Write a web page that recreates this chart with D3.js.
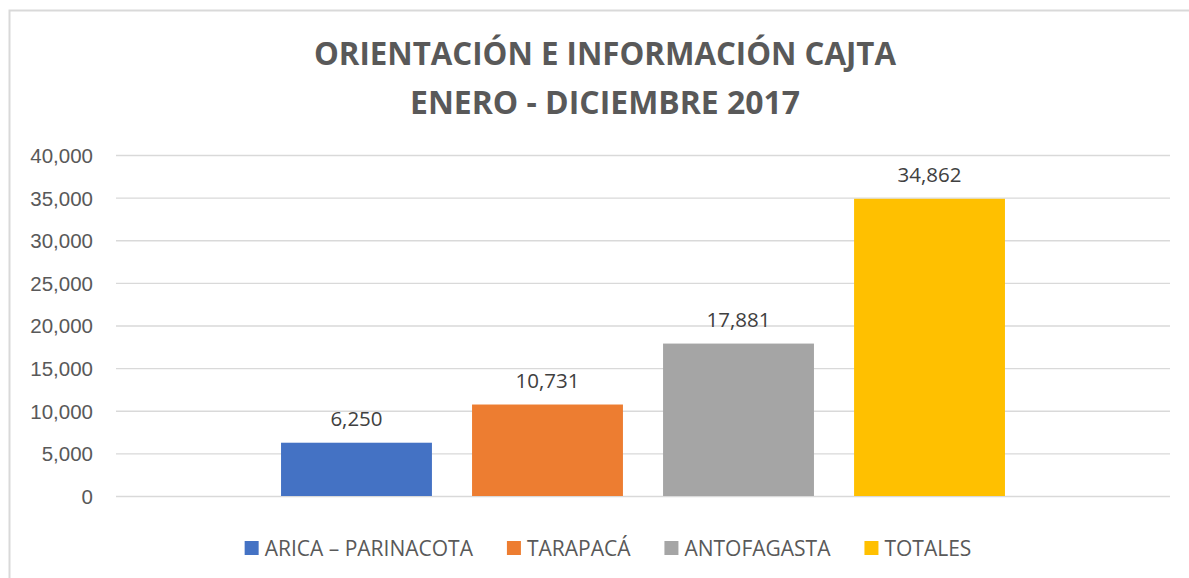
<!DOCTYPE html>
<html>
<head>
<meta charset="utf-8">
<title>Orientación e información CAJTA</title>
<script src="https://d3js.org/d3.v7.min.js"></script>
<style>
    body { margin: 0; background: #fff; }
    svg { display: block; font-family: "Open Sans", "Noto Sans", sans-serif; }
    .grid line { stroke: #d9d9d9; stroke-width: 1.3px; }
    .grid .domain { display: none; }
    .yaxis text { fill: #595959; font-size: 20.5px; }
    .yaxis .domain, .yaxis line { display: none; }
    .title { font-family: "Liberation Sans Narrow", "Open Sans", sans-serif; font-weight: bold; fill: #595959; font-size: 32px; }
    .label { fill: #404040; font-size: 20.5px; }
    .legend text { fill: #595959; font-size: 21px; }
</style>
</head>
<body>
<svg id="chart" width="1189" height="578"></svg>
<script>
// data
var series = ["ARICA – PARINACOTA", "TARAPACÁ", "ANTOFAGASTA", "TOTALES"];
var values = [6250, 10731, 17881, 34862];
var colors = ["#4472c4", "#ed7d31", "#a5a5a5", "#ffc000"];
var yTicks = [0, 5000, 10000, 15000, 20000, 25000, 30000, 35000, 40000];
var titleLines = ["ORIENTACIÓN E INFORMACIÓN CAJTA", "ENERO - DICIEMBRE 2017"];

var svg = d3.select("#chart");
var W = 1189, H = 578;
var margin = { left: 116, right: 19, top: 155, bottom: 82 };

svg.append("rect")
    .attr("width", W).attr("height", H).attr("fill", "#fff");
// chart frame
svg.append("rect")
    .attr("x", 9.5).attr("y", 10.5)
    .attr("width", 1200).attr("height", 600)
    .attr("fill", "none").attr("stroke", "#d9d9d9").attr("stroke-width", 2);

// title
var titleWidths = [582, 390];
svg.selectAll("text.title")
    .data(titleLines)
    .enter().append("text")
    .attr("class", "title")
    .attr("x", 605)
    .attr("y", function (d, i) { return 65 + i * 49; })
    .attr("text-anchor", "middle")
    .attr("textLength", function (d, i) { return titleWidths[i]; })
    .attr("lengthAdjust", "spacingAndGlyphs")
    .text(function (d) { return d; });

var y = d3.scaleLinear()
    .domain([0, 40000])
    .range([H - margin.bottom, margin.top]);

var x = d3.scaleBand()
    .domain(series)
    .range([margin.left, W - margin.right])
    .paddingInner(0.21)
    .paddingOuter(0.864);

// gridlines
svg.append("g")
    .attr("class", "grid")
    .attr("transform", "translate(" + margin.left + ",0)")
    .call(d3.axisLeft(y).tickValues(yTicks).tickSize(-(W - margin.left - margin.right)).tickFormat(""));

// y axis labels
svg.append("g")
    .attr("class", "yaxis")
    .attr("transform", "translate(" + (margin.left - 16) + ",0)")
    .call(d3.axisLeft(y).tickValues(yTicks).tickSize(0).tickPadding(7).tickFormat(d3.format(",")))
    .selectAll("text").attr("dy", "0.36em");

// bars
svg.append("g").selectAll("rect")
    .data(values)
    .enter().append("rect")
    .attr("x", function (d, i) { return x(series[i]); })
    .attr("y", function (d) { return y(d); })
    .attr("width", x.bandwidth())
    .attr("height", function (d) { return y(0) - y(d); })
    .attr("fill", function (d, i) { return colors[i]; });

// data labels
svg.append("g").selectAll("text")
    .data(values)
    .enter().append("text")
    .attr("class", "label")
    .attr("x", function (d, i) { return x(series[i]) + x.bandwidth() / 2; })
    .attr("y", function (d) { return y(d) - 17; })
    .attr("text-anchor", "middle")
    .text(function (d) { return d3.format(",")(d); });

// legend
var legend = svg.append("g").attr("class", "legend");
var items = legend.selectAll("g")
    .data(series)
    .enter().append("g");
items.append("rect")
    .attr("width", 14).attr("height", 14)
    .attr("y", -14)
    .attr("fill", function (d, i) { return colors[i]; });
items.append("text")
    .attr("x", 20)
    .attr("y", 0)
    .attr("dy", "0.05em")
    .text(function (d) { return d; });

var offset = 0;
items.each(function () {
    var g = d3.select(this);
    var w = 20 + g.select("text").node().getComputedTextLength();
    g.attr("transform", "translate(" + offset + ",0)");
    offset += w + 34;
});
var total = offset - 34;
legend.attr("transform", "translate(" + (608 - total / 2) + ",555)");
</script>
</body>
</html>
